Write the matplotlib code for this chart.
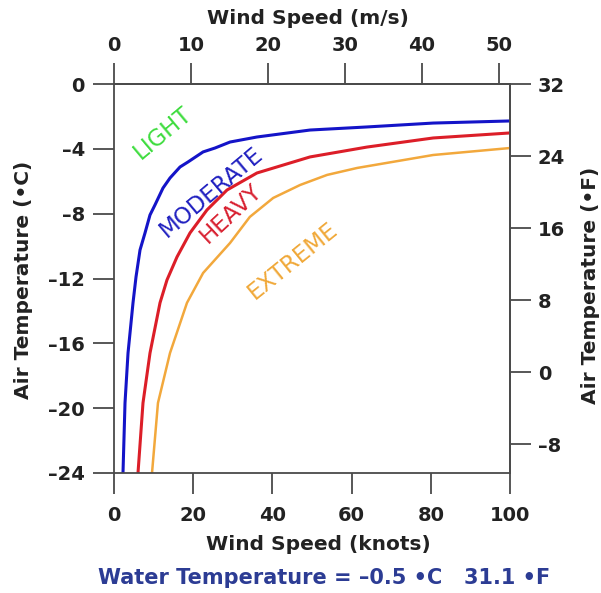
import matplotlib
matplotlib.use("Agg")
from matplotlib import pyplot as plt
import numpy as np

plt.rcParams['font.family'] = ['DejaVu Sans']

# boundaries (wind speed knots, air temperature degC)
moderate_kt = [2.27, 2.78, 3.54, 4.8, 5.56, 6.57, 7.83, 9.09, 10.35, 12.37, 14.14, 16.67,
               18.69, 22.5, 25.5, 29.3, 36.1, 49.5, 63.9, 80.6, 100]
moderate_c = [-24, -19.68, -16.6, -13.5, -11.9, -10.24, -9.19, -8.08, -7.46, -6.42, -5.8, -5.12,
              -4.81, -4.19, -3.95, -3.58, -3.27, -2.84, -2.65, -2.41, -2.28]

heavy_kt = [6.06, 7.32, 9.09, 11.62, 13.38, 15.91, 19.19, 23.48, 28.54, 36.1, 49.5, 63.9, 80.6, 100]
heavy_c = [-24, -19.68, -16.6, -13.5, -12.09, -10.67, -9.19, -7.77, -6.54, -5.49, -4.5, -3.89, -3.33, -3.02]

extreme_kt = [9.6, 11.1, 14.14, 18.43, 22.5, 29.3, 34.3, 40.2, 47.0, 53.8, 61.4, 80.6, 100]
extreme_c = [-24, -19.68, -16.6, -13.5, -11.66, -9.81, -8.2, -7.03, -6.23, -5.61, -5.18, -4.38, -3.95]

knot_ticks = [0, 20, 40, 60, 80, 100]
ms_ticks = [0, 10, 20, 30, 40, 50]
c_ticks = [0, -4, -8, -12, -16, -20, -24]
f_ticks = [32, 24, 16, 8, 0, -8]

zone_names = ['LIGHT', 'MODERATE', 'HEAVY', 'EXTREME']
zone_x = [12.4, 24.5, 29.5, 45.2]
zone_y = [-3.0, -6.7, -7.96, -10.9]
zone_rot = [40, 40, 43, 39]
zone_col = ['#3ddc3d', '#2020c0', '#d82030', '#f0a838']

water_c = -0.5
water_f = 31.1

W, H = 601, 593
fig = plt.figure(figsize=(W / 100, H / 100), dpi=100)
ax = fig.add_axes([114 / W, 1 - 473 / H, (510 - 114) / W, (473 - 84) / H])

ax.plot(moderate_kt, moderate_c, color='#1414c8', lw=2.2, solid_joinstyle='round')
ax.plot(heavy_kt, heavy_c, color='#dc1e28', lw=2.2, solid_joinstyle='round')
ax.plot(extreme_kt, extreme_c, color='#f2a83c', lw=1.8, solid_joinstyle='round')

for name, x, y, r, c in zip(zone_names, zone_x, zone_y, zone_rot, zone_col):
    ax.text(x, y, name, color=c, rotation=r, ha='center', va='center',
            fontsize=16.5, rotation_mode='anchor')

ax.set_xlim(0, 100)
ax.set_ylim(-24, 0)

def lab(v):
    return str(v).replace('-', '\u2013')

spine_col = '#4a4a4a'
tick_kw = dict(direction='out', length=15, width=1.3, color=spine_col,
               labelsize=14, labelcolor='#222222')

ax.set_xticks(knot_ticks, [lab(v) for v in knot_ticks])
ax.set_yticks(c_ticks, [lab(v) for v in c_ticks])
ax.tick_params(axis='x', pad=9, **tick_kw)
ax.tick_params(axis='y', pad=6, **tick_kw)
for t in ax.get_xticklabels() + ax.get_yticklabels():
    t.set_fontweight('bold')

top = ax.secondary_xaxis('top', functions=(lambda k: k * 0.514444, lambda m: m / 0.514444))
top.set_xticks(ms_ticks, [lab(v) for v in ms_ticks])
top.tick_params(pad=6, **tick_kw)

right = ax.secondary_yaxis('right', functions=(lambda c: c * 9 / 5 + 32, lambda f: (f - 32) * 5 / 9))
right.set_yticks(f_ticks, [lab(v) for v in f_ticks])
right.tick_params(pad=5, **tick_kw)

for a in (top, right):
    for t in a.get_xticklabels() + a.get_yticklabels():
        t.set_fontweight('bold')
    for s in a.spines.values():
        s.set_color(spine_col)
        s.set_linewidth(1.3)
for s in ax.spines.values():
    s.set_color(spine_col)
    s.set_linewidth(1.3)

lab_kw = dict(fontsize=14.5, fontweight='bold', color='#222222', ha='center', va='center')
fig.text(308 / W, 1 - 18 / H, 'Wind Speed (m/s)', **lab_kw)
fig.text(318 / W, 1 - 545 / H, 'Wind Speed (knots)', **lab_kw)
fig.text(24 / W, 1 - 280 / H, 'Air Temperature (\u2022C)', rotation=90, **lab_kw)
fig.text(590 / W, 1 - 285 / H, 'Air Temperature (\u2022F)', rotation=90, **lab_kw)

fig.text(324 / W, 1 - 578 / H,
         'Water Temperature = \u2013%.1f \u2022C   %.1f \u2022F' % (abs(water_c), water_f),
         fontsize=15, fontweight='bold', color='#2c3c94', ha='center', va='center')

fig.savefig('out.png', dpi=100)
